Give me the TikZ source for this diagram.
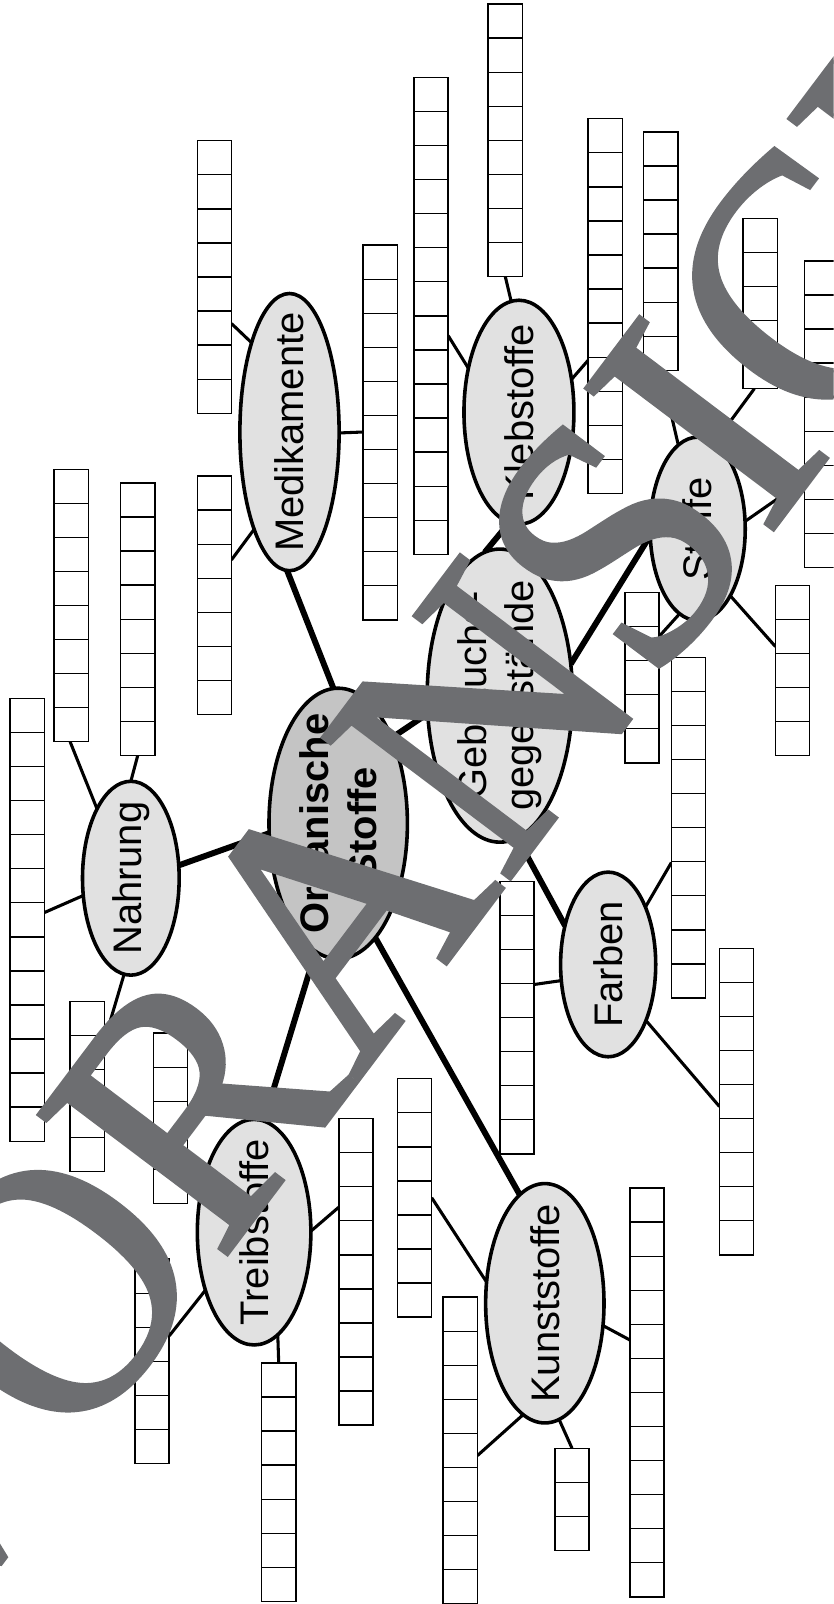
\documentclass[tikz,border=0pt]{standalone}
\usepackage{fontspec}
\setmainfont{Liberation Sans}
\newfontfamily\wmfont[FakeBold=1.2]{Liberation Serif}
\usetikzlibrary{shapes.geometric}
\pgfdeclarelayer{bg}
\pgfsetlayers{bg,main}
\definecolor{ellfill}{HTML}{E1E1E1}
\definecolor{osfill}{HTML}{C4C4C4}
\definecolor{wmgray}{HTML}{6D6E71}
\newcommand\cellh{33.3}
\newcommand\cellw{33.5}
\newcommand\boxcol[4]{%
  \node[colbox, minimum height={#4*\cellh pt}] (#1) at (#2,#3) {};
  \pgfmathtruncatemacro\lastk{#4-1}%
  \foreach \k in {1,...,\lastk}{\draw[cellsep] ([yshift={-\k*\cellh pt}]#1.north west) -- ([yshift={-\k*\cellh pt}]#1.north east);}%
}
\tikzset{
  colbox/.style={draw, rectangle, anchor=north west, minimum width=\cellw pt, inner sep=0pt, outer sep=0pt, line width=1.4pt, fill=white},
  cellsep/.style={line width=1.3pt},
  ell/.style={draw, ellipse, fill=ellfill, line width=3.5pt, inner sep=0pt, outer sep=0pt},
  lbl/.style={rotate=90, inner sep=0pt, font=\fontsize{39}{46}\selectfont, align=center},
  conn/.style={line width=3pt},
  mainconn/.style={line width=5.8pt},
  wm/.style={rotate=53, xscale=0.95, anchor=base, inner sep=0pt, text=wmgray, font=\wmfont\fontsize{350}{350}\selectfont}
}
\begin{document}
\begin{tikzpicture}[x=1pt, y=-1pt]
\useasboundingbox (0,0) rectangle (815,1568);
\clip (0,0) rectangle (815,1568);
% ---------- ellipses ----------
\node[ell, minimum width=97pt, minimum height=271pt] (Med) at (283,422.4) {};
\node[ell, minimum width=94.5pt, minimum height=189.5pt] (Nah) at (127.9,858.5) {};
\node[ell, fill=osfill, minimum width=135.3pt, minimum height=264.5pt] (OS) at (330.6,805) {};
\node[ell, minimum width=142pt, minimum height=286.5pt] (Gebr) at (488.6,680) {};
\node[ell, minimum width=107.5pt, minimum height=219pt] (Kleb) at (507.3,403) {};
\node[ell, minimum width=93pt, minimum height=179.3pt] (Sto) at (682,517) {};
\node[ell, minimum width=93pt, minimum height=180.5pt] (Farb) at (594.5,942.8) {};
\node[ell, minimum width=111pt, minimum height=220.5pt] (Treib) at (248.4,1204.5) {};
\node[ell, minimum width=115.7pt, minimum height=234pt] (Kunst) at (532.6,1274) {};
% ---------- labels ----------
\node[lbl] (tMed) at (Med) {Medikamente};
\node[lbl] (tNah) at (Nah) {Nahrung};
\node[lbl, font=\fontsize{39}{47}\selectfont\bfseries] (tOS) at (OS) {Organische\\Stoffe};
\node[lbl] (tGebr) at (Gebr) {Gebrauchs-\\gegenstände};
\node[lbl] (tKleb) at (Kleb) {Klebstoffe};
\node[lbl] (tSto) at (Sto) {Stoffe};
\node[lbl] (tFarb) at (Farb) {Farben};
\node[lbl] (tTreib) at (Treib) {Treibstoffe};
\node[lbl] (tKunst) at (Kunst) {Kunststoffe};
% ---------- answer columns ----------
\boxcol{M1}{192.8}{137.6}{8}
\boxcol{M2}{192.8}{465.4}{7}
\boxcol{M3}{355}{239.6}{11}
\boxcol{N1}{9.8}{682.7}{13}
\boxcol{N2}{52.8}{458.7}{8}
\boxcol{N3}{117.9}{472.1}{8}
\boxcol{N4}{68.4}{978.8}{5}
\boxcol{N5}{149.8}{1010}{5}
\boxcol{T1}{131.9}{1230.9}{6}
\boxcol{T2}{255.7}{1332.3}{7}
\boxcol{T3}{331.3}{1093.5}{9}
\boxcol{T4}{388.5}{1054.5}{7}
\boxcol{K1}{433.2}{1268}{9}
\boxcol{K2}{542.4}{1415.7}{3}
\boxcol{K3}{615.7}{1161.4}{12}
\boxcol{F1}{488.6}{861.5}{8}
\boxcol{F2}{656.3}{642.6}{10}
\boxcol{F3}{703.3}{927}{9}
\boxcol{S1}{610.8}{579.2}{5}
\boxcol{S3}{758}{572.3}{5}
\boxcol{S4}{786.7}{255}{9}
\boxcol{S5}{726.4}{213.4}{5}
\boxcol{S6}{629.3}{128.9}{7}
\boxcol{KL1}{404.6}{75.7}{14}
\boxcol{KL2}{477.2}{4}{8}
\boxcol{KL3}{575}{116.1}{11}
% ---------- connectors ----------
\begin{pgfonlayer}{bg}
\draw[mainconn] (Med.-91) -- (OS.92);
\draw[mainconn] (Nah.15) -- (OS.188);
\draw[mainconn] (OS.58) -- (Gebr.194);
\draw[mainconn] (OS.-100) -- (Treib.85);
\draw[mainconn] (OS.-72) -- (Kunst.103);
\draw[mainconn] (Gebr.-83) -- (Farb.138);
\draw[mainconn] (Gebr.24) -- (Sto.188);
\draw[mainconn] (Gebr.96) -- (Kleb.-95);
\draw[conn] ([yshift=-178.7pt]M1.north east) -- (Med.113);
\draw[conn] ([yshift=-81.9pt]M2.north east) -- (Med.-110);
\draw[conn] (Med.-1) -- ([yshift=-182.7pt]M3.north west);
\draw[conn] ([yshift=-209.4pt]N1.north east) -- (Nah.200);
\draw[conn] ([xshift=-1pt]N2.south) -- (Nah.116);
\draw[conn] (N3.south) -- (Nah.90);
\draw[conn] (Nah.-94) -- ([yshift=-39pt]N4.north east);
\draw[conn] (Treib.-130) -- ([yshift=-75pt]T1.north east);
\draw[conn] (Treib.-77) -- (T2.north);
\draw[conn] (Treib.1) -- ([yshift=-86.5pt]T3.north west);
\draw[conn] ([yshift=-116.3pt]T4.north east) -- (Kunst.160);
\draw[conn] ([yshift=-154.9pt]K1.north east) -- (Kunst.-101);
\draw[conn] (Kunst.-83) -- (K2.north);
\draw[conn] (Kunst.-21) -- ([yshift=-148.5pt]K3.north west);
\draw[conn] ([yshift=-100.9pt]F1.north east) -- (Farb.199);
\draw[conn] (Farb.57) -- ([yshift=-200.6pt]F2.north west);
\draw[conn] (Farb.-56) -- ([yshift=-154.7pt]F3.north west);
\draw[conn] ([yshift=-43pt]S1.north east) -- (Sto.-102);
\draw[conn] (Sto.-64) -- ([yshift=-59.7pt]S3.north west);
\draw[conn] (Sto.9) -- ([yshift=-214pt]S4.north west);
\draw[conn] (Sto.79) -- ([xshift=-5.7pt]S5.south);
\draw[conn] (S6.south) -- (Sto.103);
\draw[conn] ([yshift=-252.4pt]KL1.north east) -- (Kleb.139);
\draw[conn] (KL2.south) -- (Kleb.94);
\draw[conn] (Kleb.32) -- ([yshift=-236pt]KL3.north west);
\end{pgfonlayer}
% ---------- watermark ----------
\node[wm] (wmark) at (571,763) {VORANSICHT};
\end{tikzpicture}
\end{document}
